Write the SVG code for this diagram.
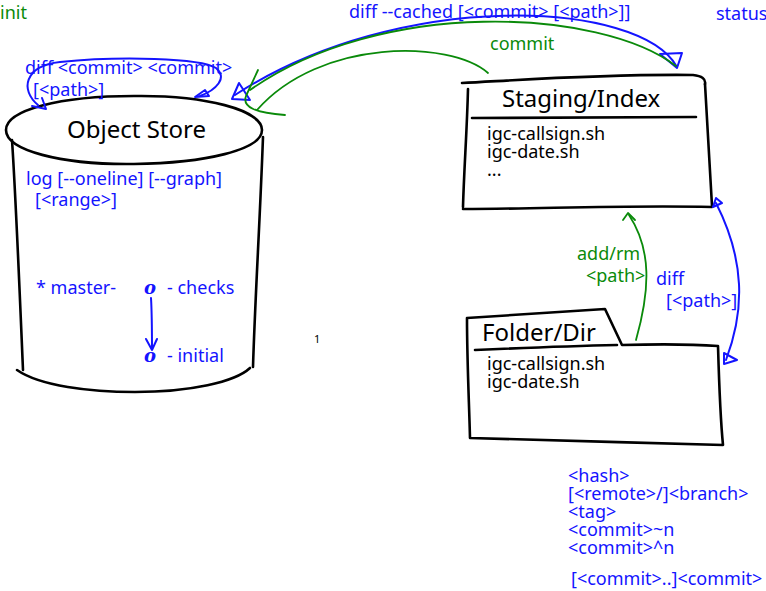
<svg xmlns="http://www.w3.org/2000/svg" width="766" height="591" viewBox="0 0 766 591">
<style>
text{font-family:"Noto Sans","Open Sans","DejaVu Sans",sans-serif;font-size:18px}
.b{fill:#1414ff}
.g{fill:#0a8a0a}
.k{fill:#000}
.t{font-size:24px;fill:#000}
.sk{fill:none;stroke:#000;stroke-width:2.6;stroke-linecap:round;stroke-linejoin:round}
.bl{fill:none;stroke:#1414ff;stroke-width:2;stroke-linecap:round;stroke-linejoin:round}
.gl{fill:none;stroke:#0a8a0a;stroke-width:1.8;stroke-linecap:round;stroke-linejoin:round}
.o{font-family:"DejaVu Serif",serif;font-style:italic;font-weight:bold;font-size:18px;fill:#1414ff}
</style>
<rect width="766" height="591" fill="#fff"/>

<text class="g" x="0" y="19">init</text>
<text class="b" x="716" y="20">status</text>

<g id="objectstore">
  <path class="sk" d="M 134 96 C 60 96, 6 110, 6 130 C 6 150, 60 165, 134 164 C 205 163, 262 150, 262 130 C 262 110, 205 95, 134 96 Z"/>
  <path class="sk" d="M 12 140 C 16 200, 20 300, 23 370"/>
  <path class="sk" d="M 263 137 C 260 220, 255 300, 253 367"/>
  <path class="sk" d="M 17 370 C 40 386, 90 392, 135 392 C 190 392, 235 382, 250 368"/>
  <text class="t" x="67" y="138">Object Store</text>
  <text class="b" x="26" y="185">log [--oneline] [--graph]</text>
  <text class="b" x="35" y="206">[&lt;range&gt;]</text>
  <text class="b" x="36" y="294">* master-</text>
  <text class="o" x="144" y="294">o</text>
  <text class="b" x="167" y="294">- checks</text>
  <text class="o" x="144" y="362">o</text>
  <text class="b" x="167" y="362">- initial</text>
  <path class="bl" d="M 151 298 C 152 315, 152 332, 152 350 M 146 339 L 152 350 L 157 339"/>
</g>

<g id="staging">
  <path class="sk" d="M 462 83 C 520 80, 600 74, 693 75 C 702 76, 706 79, 705 84"/>
  <path class="sk" d="M 705 84 C 708 130, 710 170, 712 206"/>
  <path class="sk" d="M 712 207 C 620 205, 540 209, 463 209"/>
  <path class="sk" d="M 468 89 C 467 130, 464 170, 463 207"/>
  <path class="sk" d="M 472 118 L 696 117"/>
  <text class="t" x="502" y="107">Staging/Index</text>
  <text class="k" x="487" y="140">igc-callsign.sh</text>
  <text class="k" x="487" y="158">igc-date.sh</text>
  <text class="k" x="487" y="176">...</text>
</g>

<g id="folder">
  <path class="sk" d="M 467 318 C 510 315, 560 312, 605 309 L 622 345 C 660 344, 690 344, 718 346 C 719 380, 720 415, 723 445 C 640 443, 550 440, 470 438 C 469 400, 467 360, 467 318 Z"/>
  <path class="sk" d="M 475 350 C 520 348, 570 346, 617 345"/>
  <text class="t" x="482" y="341">Folder/Dir</text>
  <text class="k" x="487" y="370">igc-callsign.sh</text>
  <text class="k" x="487" y="388">igc-date.sh</text>
</g>

<text class="k" x="314" y="343" style="font-size:11px">1</text>

<g id="connectors">
  <path class="bl" d="M 677 67 C 640 0, 400 -12, 235 95"/>
  <path class="bl" d="M 232 99 L 239 83 L 250 100 Z"/>
  <path class="bl" d="M 660 54 L 682 53 L 677 68 Z"/>
  <text class="b" x="349" y="18">diff --cached [&lt;commit&gt; [&lt;path&gt;]]</text>
  <path class="gl" d="M 676 66 C 600 8, 380 -2, 250 90"/>
  <path class="gl" d="M 488 73 C 450 40, 320 38, 257 110"/>
  <path class="gl" d="M 258 70 L 246 96 Q 240 112 285 115"/>
  <text class="g" x="490" y="50">commit</text>
  <path class="bl" d="M 38 105 C 20 90, 24 66, 60 62 C 120 56, 200 58, 216 68 C 228 78, 216 90, 200 96"/>
  <path class="bl" d="M 195 97 L 209 96 L 205 90 Z"/>
  <path class="bl" d="M 32 106 L 46 109 L 42 98"/>
  <text class="b" x="25" y="74">diff &lt;commit&gt; &lt;commit&gt;</text>
  <text class="b" x="33" y="96">[&lt;path&gt;]</text>
  <path class="gl" d="M 636 340 C 650 290, 652 250, 629 215"/>
  <path class="gl" d="M 623 220 L 628 213 L 635 220"/>
  <text class="g" x="577" y="260">add/rm</text>
  <text class="g" x="586" y="282">&lt;path&gt;</text>
  <path class="bl" d="M 716 203 C 745 260, 745 310, 726 360"/>
  <path class="bl" d="M 713 207 L 716 198 L 722 203 Z"/>
  <path class="bl" d="M 724 353 L 737 360 L 724 364 Z"/>
  <text class="b" x="656" y="285">diff</text>
  <text class="b" x="666" y="307">[&lt;path&gt;]</text>
</g>

<g id="revisions">
  <text class="b" x="568" y="482">&lt;hash&gt;</text>
  <text class="b" x="568" y="500">[&lt;remote&gt;/]&lt;branch&gt;</text>
  <text class="b" x="568" y="518">&lt;tag&gt;</text>
  <text class="b" x="568" y="536">&lt;commit&gt;~n</text>
  <text class="b" x="568" y="554">&lt;commit&gt;^n</text>
  <text class="b" x="571" y="585">[&lt;commit&gt;..]&lt;commit&gt;</text>
</g>
</svg>
